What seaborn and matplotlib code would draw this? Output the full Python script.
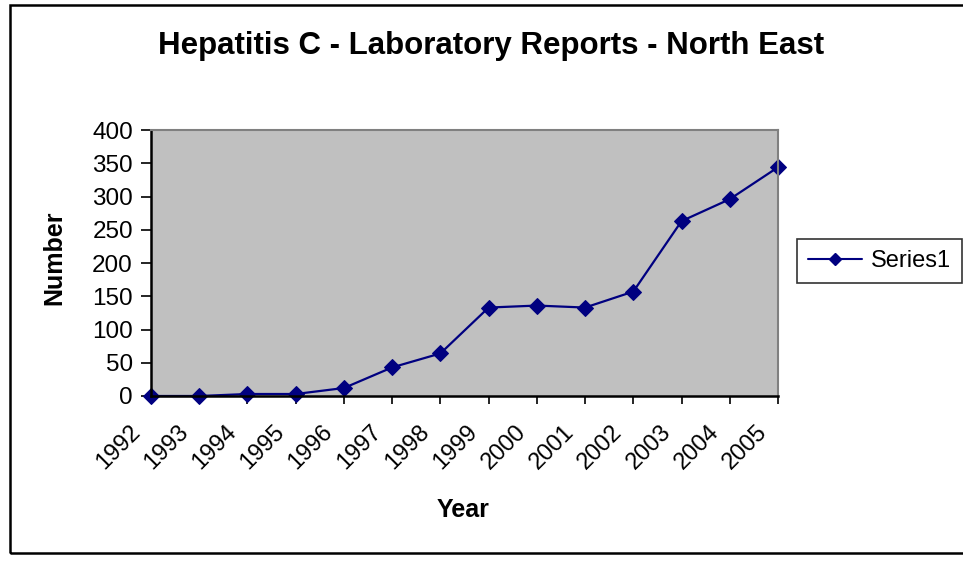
import matplotlib
matplotlib.use("Agg")
import matplotlib.pyplot as plt
import matplotlib.transforms as mtransforms
import seaborn as sns
import pandas as pd
from matplotlib.patches import Rectangle
from matplotlib.lines import Line2D

# data
years = [1992, 1993, 1994, 1995, 1996, 1997, 1998, 1999, 2000, 2001, 2002, 2003, 2004, 2005]
reports = [0, 0, 3, 3, 12, 43, 64, 133, 136, 133, 157, 263, 296, 344]
y_ticks = [0, 50, 100, 150, 200, 250, 300, 350, 400]

df = pd.DataFrame({"Year": years, "Number": reports})

sns.set_style("white")
plt.rcParams['font.family'] = ['Liberation Sans', 'DejaVu Sans']
plt.rcParams['text.color'] = 'black'
plt.rcParams['axes.labelcolor'] = 'black'
plt.rcParams['xtick.color'] = 'black'
plt.rcParams['ytick.color'] = 'black'

fig = plt.figure(figsize=(9.63, 5.64), dpi=100)
ax = fig.add_axes([151 / 963, 1 - 396 / 564, (778 - 151) / 963, (396 - 130) / 564])
ax.set_facecolor("#C0C0C0")

sns.lineplot(data=df, x="Year", y="Number", ax=ax, color="#000080", linewidth=1.6,
             marker="D", markersize=8, markeredgecolor="#000080", clip_on=False, legend=False)

ax.set_xlim(1992, 2005)
ax.set_ylim(0, 400)
ax.set_yticks(y_ticks)
ax.set_xticks(years)
ax.set_xticklabels([str(y) for y in years], rotation=45, ha="right", va="top",
                   rotation_mode="anchor", fontsize=17)
ax.tick_params(axis="y", labelsize=17.5, length=7, width=1.2, direction="out", left=True, pad=6)
ax.tick_params(axis="x", length=6, width=1.2, direction="out", bottom=True, pad=4)

# shift the slanted year labels left and down, as in the original
shift = mtransforms.ScaledTranslation(-22 / 100, -11 / 100, fig.dpi_scale_trans)
for lab in ax.get_xticklabels():
    lab.set_transform(lab.get_transform() + shift)

for s in ["left", "bottom"]:
    ax.spines[s].set_color("black")
    ax.spines[s].set_linewidth(1.8)
for s in ["top", "right"]:
    ax.spines[s].set_color("#808080")
    ax.spines[s].set_linewidth(1.5)

ax.set_xlabel("Year", fontsize=18, fontweight="bold")
ax.xaxis.label.set_va("center")
ax.xaxis.set_label_coords((463 - 151) / 627, (396 - 510) / 266)
ax.set_ylabel("Number", fontsize=18, fontweight="bold")
ax.yaxis.label.set_va("center")
ax.yaxis.set_label_coords((54 - 151) / 627, (396 - 258) / 266)

fig.text(491 / 963, 1 - 46 / 564, "Hepatitis C - Laboratory Reports - North East",
         ha="center", va="center", fontsize=22.5, fontweight="bold")

handle = Line2D([], [], color="#000080", linewidth=1.5, marker="D", markersize=6.5)
leg = fig.legend([handle], ["Series1"], loc="center left", bbox_to_anchor=(797 / 963, 1 - 261 / 564),
                 fontsize=17, frameon=True, fancybox=False, edgecolor="black",
                 handlelength=2.3, borderpad=0.45, handletextpad=0.4, borderaxespad=0)
leg.get_frame().set_linewidth(1.2)

# outer chart border
fig.patches.append(Rectangle((10 / 963, 1 - 553 / 564), 1.0, (553 - 5) / 564,
                             transform=fig.transFigure, fill=False, edgecolor="black", linewidth=1.8))

fig.savefig("out.png", dpi=100)
